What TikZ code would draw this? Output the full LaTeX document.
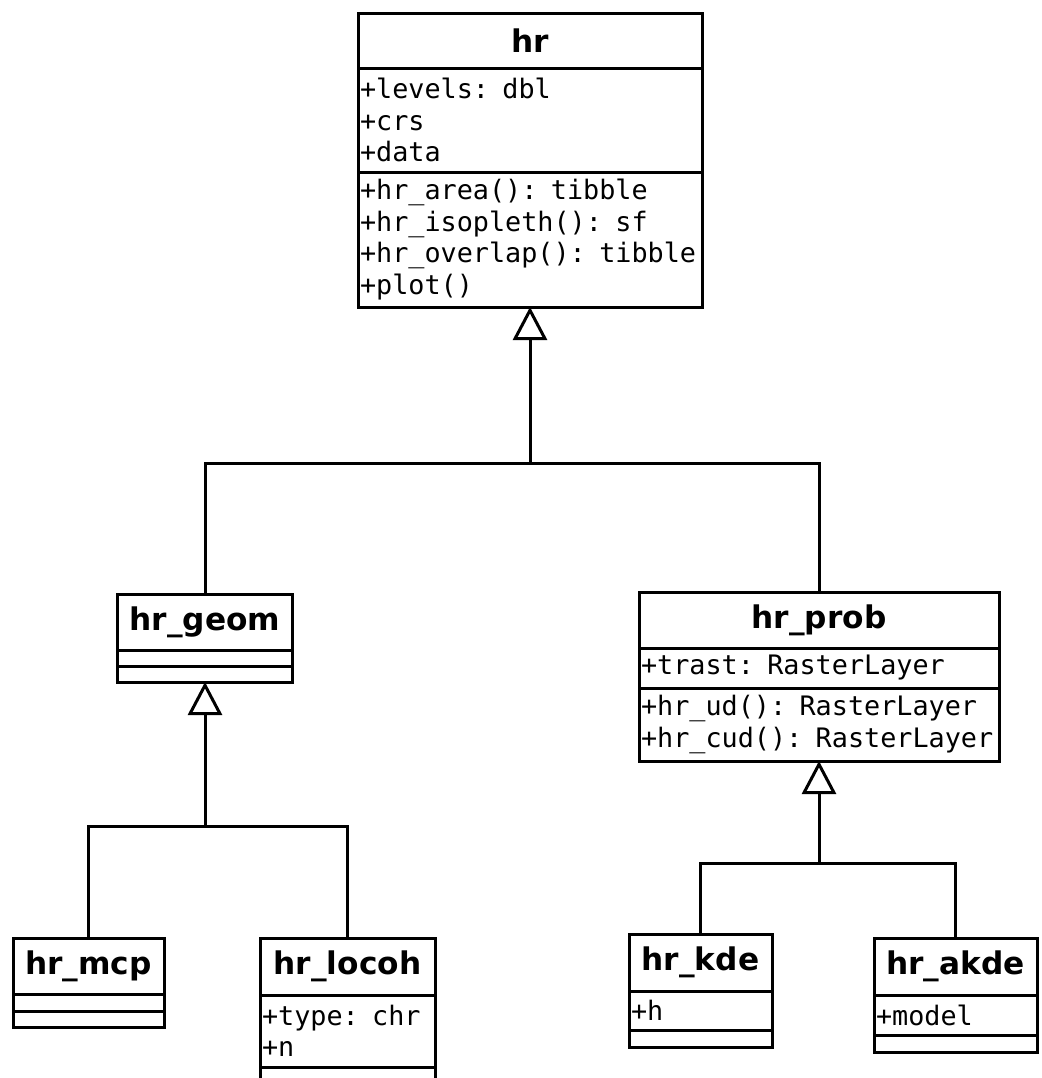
\documentclass[tikz,border=0pt]{standalone}
\usepackage{fontspec}
\newfontfamily\umlsans{DejaVu Sans}
\newfontfamily\umlmono{DejaVu Sans Mono}
\usetikzlibrary{positioning,arrows.meta}

\tikzset{
  umlbox/.style={draw, rectangle, line width=1.5pt, outer sep=0pt, inner sep=0pt},
  classname/.style={umlbox, anchor=north, minimum height=28pt,
    font=\umlsans\bfseries\fontsize{15.6}{18}\selectfont},
  members/.style={umlbox, below=0pt of #1, align=left, inner xsep=1pt,
    font=\umlmono\fontsize{13.4}{15.75}\selectfont},
  link/.style={line width=1.5pt},
  extends/.style={link, -{Triangle[open, length=16.5pt, width=17pt]}},
}

\begin{document}
\begin{tikzpicture}[x=0.5pt, y=-0.5pt]
  \clip (0,0) rectangle (1042,1078);

  % base class
  \node[classname, minimum width=172pt, minimum height=27.5pt] (hr) at (530,13) {hr};
  \node[members=hr, text width=170pt, minimum height=52pt] (hr-attr) {+levels: dbl\\+crs\\+data};
  \node[members=hr-attr, text width=170pt, minimum height=67.5pt] (hr-ops)
    {+hr\_area(): tibble\\+hr\_isopleth(): sf\\+hr\_overlap(): tibble\\+plot()};

  % geometric estimators
  \node[classname, minimum width=87.5pt] (hr-geom) at (205,594) {hr\_geom};
  \node[members=hr-geom, text width=85.5pt, minimum height=8pt] (hr-geom-attr) {};
  \node[members=hr-geom-attr, text width=85.5pt, minimum height=8pt] (hr-geom-ops) {};

  \node[classname, minimum width=75.5pt] (hr-mcp) at (88.5,938) {hr\_mcp};
  \node[members=hr-mcp, text width=73.5pt, minimum height=8.5pt] (hr-mcp-attr) {};
  \node[members=hr-mcp-attr, text width=73.5pt, minimum height=8pt] (hr-mcp-ops) {};

  \node[classname, minimum width=87.5pt, minimum height=28.5pt] (hr-locoh) at (347.5,938) {hr\_locoh};
  \node[members=hr-locoh, text width=85.5pt, minimum height=36pt] (hr-locoh-attr) {+type: chr\\+n};
  \node[members=hr-locoh-attr, text width=85.5pt, minimum height=8pt] (hr-locoh-ops) {};

  % probabilistic estimators
  \node[classname, minimum width=180pt] (hr-prob) at (819,592) {hr\_prob};
  \node[members=hr-prob, text width=178pt, minimum height=20pt] (hr-prob-attr) {+trast: RasterLayer};
  \node[members=hr-prob-attr, text width=178pt, minimum height=36.5pt] (hr-prob-ops)
    {+hr\_ud(): RasterLayer\\+hr\_cud(): RasterLayer};

  \node[classname, minimum width=71.5pt, minimum height=28.5pt] (hr-kde) at (700.5,934) {hr\_kde};
  \node[members=hr-kde, text width=69.5pt, minimum height=19.5pt] (hr-kde-attr) {+h};
  \node[members=hr-kde-attr, text width=69.5pt, minimum height=8.5pt] (hr-kde-ops) {};

  \node[classname, minimum width=81.5pt, minimum height=28.5pt] (hr-akde) at (955.5,938) {hr\_akde};
  \node[members=hr-akde, text width=79.5pt, minimum height=20pt] (hr-akde-attr) {+model};
  \node[members=hr-akde-attr, text width=79.5pt, minimum height=8.5pt] (hr-akde-ops) {};

  % inheritance
  \coordinate (top-join) at (hr-ops.south |- 0,463);
  \coordinate (geom-join) at (hr-geom-ops.south |- 0,826);
  \coordinate (prob-join) at (hr-prob-ops.south |- 0,863);

  \draw[extends] (hr-geom.north) |- (top-join) -- (hr-ops.south);
  \draw[link] (hr-prob.north) |- (top-join);

  \draw[extends] (hr-mcp.north) |- (geom-join) -- (hr-geom-ops.south);
  \draw[link] (hr-locoh.north) |- (geom-join);

  \draw[extends] (hr-kde.north) |- (prob-join) -- (hr-prob-ops.south);
  \draw[link] (hr-akde.north) |- (prob-join);
\end{tikzpicture}
\end{document}
